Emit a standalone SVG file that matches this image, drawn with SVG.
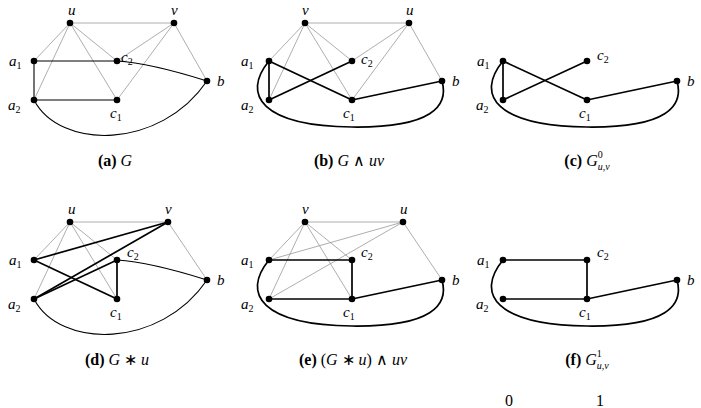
<svg xmlns="http://www.w3.org/2000/svg" width="701" height="408" viewBox="0 0 701 408">
<style>
.g{stroke:#999;stroke-width:0.8;fill:none}
.t{stroke:#000;stroke-width:1.1;fill:none}
.k{stroke:#000;stroke-width:1.7;fill:none}
.n{fill:#000}
.lab{font-style:italic;font-size:15px;fill:#000}
.sub{font-size:10px;font-style:normal}
.cap{font-size:16px;fill:#000}
.b{font-weight:bold}
.i{font-style:italic}
</style>
<rect width="701" height="408" fill="#fff"/>
<g id="connectors">
<g id="edges-a">
<line class="g" x1="70" y1="23" x2="174" y2="23"/>
<line class="g" x1="70" y1="23" x2="34" y2="61"/>
<line class="g" x1="70" y1="23" x2="34" y2="100"/>
<line class="g" x1="70" y1="23" x2="117" y2="61"/>
<line class="g" x1="70" y1="23" x2="117" y2="100"/>
<line class="g" x1="174" y1="23" x2="117" y2="61"/>
<line class="g" x1="174" y1="23" x2="117" y2="100"/>
<line class="g" x1="174" y1="23" x2="207" y2="81"/>
<line class="t" x1="34" y1="61" x2="117" y2="61"/>
<line class="t" x1="34" y1="61" x2="34" y2="100"/>
<line class="t" x1="34" y1="100" x2="117" y2="100"/>
<path class="t" d="M117,61 Q150,63 207,81"/>
<path class="t" d="M34,100 C60,150 160,150 207,81"/>
</g>
<g id="edges-b">
<line class="g" x1="305" y1="23" x2="409" y2="23"/>
<line class="g" x1="305" y1="23" x2="269" y2="61"/>
<line class="g" x1="305" y1="23" x2="269" y2="100"/>
<line class="g" x1="305" y1="23" x2="352" y2="61"/>
<line class="g" x1="305" y1="23" x2="352" y2="100"/>
<line class="g" x1="409" y1="23" x2="352" y2="61"/>
<line class="g" x1="409" y1="23" x2="352" y2="100"/>
<line class="g" x1="409" y1="23" x2="442" y2="81"/>
<line class="k" x1="269" y1="61" x2="269" y2="100"/>
<line class="k" x1="269" y1="61" x2="352" y2="100"/>
<line class="k" x1="269" y1="100" x2="352" y2="61"/>
<line class="k" x1="352" y1="100" x2="442" y2="81"/>
<path class="k" d="M269,61 C241,95 262,126 352,127 C432,128 449,106 442,81"/>
</g>
<g id="edges-c">
<line class="k" x1="503" y1="61" x2="503" y2="100"/>
<line class="k" x1="503" y1="61" x2="587" y2="100"/>
<line class="k" x1="503" y1="100" x2="587" y2="61"/>
<line class="k" x1="587" y1="100" x2="677" y2="81"/>
<path class="k" d="M503,61 C475,95 496,126 587,127 C667,128 684,106 677,81"/>
</g>
<g id="edges-d">
<line class="g" x1="70" y1="222" x2="168" y2="222"/>
<line class="g" x1="70" y1="222" x2="34" y2="260"/>
<line class="g" x1="70" y1="222" x2="34" y2="299"/>
<line class="g" x1="70" y1="222" x2="117" y2="260"/>
<line class="g" x1="70" y1="222" x2="117" y2="299"/>
<line class="g" x1="168" y1="222" x2="207" y2="280"/>
<line class="k" x1="34" y1="260" x2="168" y2="222"/>
<line class="k" x1="34" y1="299" x2="168" y2="222"/>
<line class="k" x1="34" y1="299" x2="117" y2="260"/>
<line class="k" x1="34" y1="260" x2="117" y2="299"/>
<line class="k" x1="117" y1="260" x2="117" y2="299"/>
<path class="t" d="M117,260 Q150,262 207,280"/>
<path class="t" d="M34,299 C60,349 160,349 207,280"/>
</g>
<g id="edges-e">
<line class="g" x1="305" y1="222" x2="403" y2="222"/>
<line class="g" x1="305" y1="222" x2="269" y2="260"/>
<line class="g" x1="305" y1="222" x2="269" y2="299"/>
<line class="g" x1="305" y1="222" x2="352" y2="260"/>
<line class="g" x1="305" y1="222" x2="352" y2="299"/>
<line class="g" x1="403" y1="222" x2="269" y2="260"/>
<line class="g" x1="403" y1="222" x2="269" y2="299"/>
<line class="g" x1="403" y1="222" x2="442" y2="280"/>
<line class="k" x1="269" y1="260" x2="352" y2="260"/>
<line class="k" x1="352" y1="260" x2="352" y2="299"/>
<line class="k" x1="269" y1="299" x2="352" y2="299"/>
<line class="k" x1="352" y1="299" x2="442" y2="280"/>
<path class="k" d="M269,260 C241,294 262,325 352,326 C432,327 449,305 442,280"/>
</g>
<g id="edges-f">
<line class="k" x1="503" y1="260" x2="587" y2="260"/>
<line class="k" x1="587" y1="260" x2="587" y2="299"/>
<line class="k" x1="503" y1="299" x2="587" y2="299"/>
<line class="k" x1="587" y1="299" x2="677" y2="280"/>
<path class="k" d="M503,260 C475,294 496,325 587,326 C667,327 684,305 677,280"/>
</g>
</g>

<g font-family="'Liberation Serif', 'Times New Roman', serif">
<g id="a-u"><circle class="n" cx="70" cy="23" r="3.3"/><text class="lab" x="68" y="15">u</text></g>
<g id="a-v"><circle class="n" cx="174" cy="23" r="3.3"/><text class="lab" x="171" y="15">v</text></g>
<g id="a-a1"><circle class="n" cx="34" cy="61" r="3.3"/><text class="lab" x="9" y="66">a<tspan class="sub" dy="3">1</tspan></text></g>
<g id="a-a2"><circle class="n" cx="34" cy="100" r="3.3"/><text class="lab" x="8" y="110">a<tspan class="sub" dy="3">2</tspan></text></g>
<g id="a-c1"><circle class="n" cx="117" cy="100" r="3.3"/><text class="lab" x="110" y="118">c<tspan class="sub" dy="3">1</tspan></text></g>
<g id="a-c2"><circle class="n" cx="117" cy="61" r="3.3"/><text class="lab" x="121" y="62">c<tspan class="sub" dy="3">2</tspan></text></g>
<g id="a-b"><circle class="n" cx="207" cy="81" r="3.3"/><text class="lab" x="217" y="86">b</text></g>

<g id="b-v"><circle class="n" cx="305" cy="23" r="3.3"/><text class="lab" x="302" y="15">v</text></g>
<g id="b-u"><circle class="n" cx="409" cy="23" r="3.3"/><text class="lab" x="406" y="15">u</text></g>
<g id="b-a1"><circle class="n" cx="269" cy="61" r="3.3"/><text class="lab" x="241" y="66">a<tspan class="sub" dy="3">1</tspan></text></g>
<g id="b-a2"><circle class="n" cx="269" cy="100" r="3.3"/><text class="lab" x="241" y="110">a<tspan class="sub" dy="3">2</tspan></text></g>
<g id="b-c1"><circle class="n" cx="352" cy="100" r="3.3"/><text class="lab" x="343" y="118">c<tspan class="sub" dy="3">1</tspan></text></g>
<g id="b-c2"><circle class="n" cx="352" cy="61" r="3.3"/><text class="lab" x="361" y="64">c<tspan class="sub" dy="3">2</tspan></text></g>
<g id="b-b"><circle class="n" cx="442" cy="81" r="3.3"/><text class="lab" x="452" y="86">b</text></g>

<g id="c-a1"><circle class="n" cx="503" cy="61" r="3.3"/><text class="lab" x="477" y="66">a<tspan class="sub" dy="3">1</tspan></text></g>
<g id="c-a2"><circle class="n" cx="503" cy="100" r="3.3"/><text class="lab" x="476" y="110">a<tspan class="sub" dy="3">2</tspan></text></g>
<g id="c-c1"><circle class="n" cx="587" cy="100" r="3.3"/><text class="lab" x="579" y="118">c<tspan class="sub" dy="3">1</tspan></text></g>
<g id="c-c2"><circle class="n" cx="587" cy="61" r="3.3"/><text class="lab" x="597" y="60">c<tspan class="sub" dy="3">2</tspan></text></g>
<g id="c-b"><circle class="n" cx="677" cy="81" r="3.3"/><text class="lab" x="687" y="86">b</text></g>

<g id="d-u"><circle class="n" cx="70" cy="222" r="3.3"/><text class="lab" x="68" y="214">u</text></g>
<g id="d-v"><circle class="n" cx="168" cy="222" r="3.3"/><text class="lab" x="165" y="214">v</text></g>
<g id="d-a1"><circle class="n" cx="34" cy="260" r="3.3"/><text class="lab" x="9" y="265">a<tspan class="sub" dy="3">1</tspan></text></g>
<g id="d-a2"><circle class="n" cx="34" cy="299" r="3.3"/><text class="lab" x="8" y="309">a<tspan class="sub" dy="3">2</tspan></text></g>
<g id="d-c1"><circle class="n" cx="117" cy="299" r="3.3"/><text class="lab" x="110" y="317">c<tspan class="sub" dy="3">1</tspan></text></g>
<g id="d-c2"><circle class="n" cx="117" cy="260" r="3.3"/><text class="lab" x="127" y="257">c<tspan class="sub" dy="3">2</tspan></text></g>
<g id="d-b"><circle class="n" cx="207" cy="280" r="3.3"/><text class="lab" x="217" y="285">b</text></g>

<g id="e-v"><circle class="n" cx="305" cy="222" r="3.3"/><text class="lab" x="302" y="214">v</text></g>
<g id="e-u"><circle class="n" cx="403" cy="222" r="3.3"/><text class="lab" x="400" y="214">u</text></g>
<g id="e-a1"><circle class="n" cx="269" cy="260" r="3.3"/><text class="lab" x="241" y="265">a<tspan class="sub" dy="3">1</tspan></text></g>
<g id="e-a2"><circle class="n" cx="269" cy="299" r="3.3"/><text class="lab" x="241" y="309">a<tspan class="sub" dy="3">2</tspan></text></g>
<g id="e-c1"><circle class="n" cx="352" cy="299" r="3.3"/><text class="lab" x="343" y="317">c<tspan class="sub" dy="3">1</tspan></text></g>
<g id="e-c2"><circle class="n" cx="352" cy="260" r="3.3"/><text class="lab" x="361" y="257">c<tspan class="sub" dy="3">2</tspan></text></g>
<g id="e-b"><circle class="n" cx="442" cy="280" r="3.3"/><text class="lab" x="452" y="285">b</text></g>

<g id="f-a1"><circle class="n" cx="503" cy="260" r="3.3"/><text class="lab" x="477" y="265">a<tspan class="sub" dy="3">1</tspan></text></g>
<g id="f-a2"><circle class="n" cx="503" cy="299" r="3.3"/><text class="lab" x="476" y="309">a<tspan class="sub" dy="3">2</tspan></text></g>
<g id="f-c1"><circle class="n" cx="587" cy="299" r="3.3"/><text class="lab" x="579" y="317">c<tspan class="sub" dy="3">1</tspan></text></g>
<g id="f-c2"><circle class="n" cx="587" cy="260" r="3.3"/><text class="lab" x="597" y="257">c<tspan class="sub" dy="3">2</tspan></text></g>
<g id="f-b"><circle class="n" cx="677" cy="280" r="3.3"/><text class="lab" x="687" y="285">b</text></g>

<g id="captions">
<text class="cap" x="115" y="166" text-anchor="middle"><tspan class="b">(a)</tspan> <tspan class="i">G</tspan></text>
<text class="cap" x="349" y="166" text-anchor="middle"><tspan class="b">(b)</tspan> <tspan class="i">G</tspan> ∧ <tspan class="i">uv</tspan></text>
<text class="cap" x="587" y="166" text-anchor="middle"><tspan class="b">(c)</tspan> <tspan class="i">G</tspan><tspan font-size="10" dy="-8">0</tspan><tspan font-size="10" class="i" dx="-5" dy="12">u,v</tspan></text>
<text class="cap" x="117" y="365" text-anchor="middle"><tspan class="b">(d)</tspan> <tspan class="i">G</tspan> ∗ <tspan class="i">u</tspan></text>
<text class="cap" x="353" y="365" text-anchor="middle"><tspan class="b">(e)</tspan> (<tspan class="i">G</tspan> ∗ <tspan class="i">u</tspan>) ∧ <tspan class="i">uv</tspan></text>
<text class="cap" x="587" y="365" text-anchor="middle"><tspan class="b">(f)</tspan> <tspan class="i">G</tspan><tspan font-size="10" dy="-8">1</tspan><tspan font-size="10" class="i" dx="-5" dy="12">u,v</tspan></text>
<text class="cap" x="505" y="406" font-size="8">0</text>
<text class="cap" x="596" y="406" font-size="8">1</text>
</g>
</g>
</svg>
